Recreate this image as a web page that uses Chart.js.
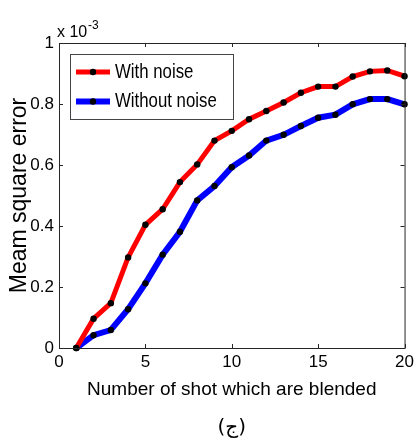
<!DOCTYPE html>
<html>
<head>
<meta charset="utf-8">
<script src="https://cdn.jsdelivr.net/npm/chart.js@4.4.0/dist/chart.umd.min.js"></script>
<style>
  html, body { margin: 0; padding: 0; background: #fff; }
</style>
</head>
<body>
<canvas id="mseChart" width="418" height="441"></canvas>
<script>
// number of blended shots and mean square error (in units of 1e-3)
const shots = [1, 2, 3, 4, 5, 6, 7, 8, 9, 10, 11, 12, 13, 14, 15, 16, 17, 18, 19, 20];
const withNoise = [0, 0.096, 0.147, 0.297, 0.404, 0.455, 0.544, 0.602, 0.680, 0.712,
                   0.750, 0.777, 0.805, 0.837, 0.857, 0.857, 0.890, 0.907, 0.910, 0.891];
const withoutNoise = [0, 0.042, 0.059, 0.127, 0.212, 0.306, 0.381, 0.484, 0.531, 0.593,
                      0.631, 0.680, 0.699, 0.728, 0.755, 0.765, 0.799, 0.816, 0.816, 0.799];
const seriesNames = ['With noise', 'Without noise'];
const xTicks = [0, 5, 10, 15, 20];
const yTicks = [0, 0.2, 0.4, 0.6, 0.8, 1];

const FONT = "'Liberation Sans', Arial, sans-serif";
const AXIS_COLOR = '#262626';

const toPoints = vals => vals.map((v, i) => ({ x: shots[i], y: v }));

// MATLAB-style box with inward ticks, exponent label, legend and caption
const matlabFrame = {
    id: 'matlabFrame',
    afterDatasetsDraw(chart) {
        const { ctx, chartArea: a, scales: { x, y } } = chart;
        ctx.save();
        ctx.strokeStyle = AXIS_COLOR;
        ctx.lineWidth = 1;
        ctx.strokeRect(a.left + 0.5, a.top + 0.5, a.width, a.height);

        ctx.beginPath();
        xTicks.forEach(v => {
            const px = Math.round(x.getPixelForValue(v)) + 0.5;
            ctx.moveTo(px, a.bottom); ctx.lineTo(px, a.bottom - 4);
            ctx.moveTo(px, a.top); ctx.lineTo(px, a.top + 4);
        });
        yTicks.forEach(v => {
            const py = Math.round(y.getPixelForValue(v)) + 0.5;
            ctx.moveTo(a.left, py); ctx.lineTo(a.left + 4, py);
            ctx.moveTo(a.right, py); ctx.lineTo(a.right - 4, py);
        });
        ctx.stroke();

        // exponent above the y axis
        ctx.fillStyle = '#000';
        ctx.textBaseline = 'alphabetic';
        ctx.textAlign = 'left';
        ctx.font = `16px ${FONT}`;
        ctx.fillText('x 10', a.left - 2, a.top - 6);
        ctx.font = `12px ${FONT}`;
        ctx.fillText('-3', a.left + 29, a.top - 14);

        // legend
        const lx = a.left + 11, ly = a.top + 11, lw = 163, lh = 65;
        ctx.fillStyle = '#fff';
        ctx.fillRect(lx, ly, lw, lh);
        ctx.strokeStyle = '#444';
        ctx.strokeRect(lx + 0.5, ly + 0.5, lw, lh);
        chart.data.datasets.forEach((ds, i) => {
            const rowY = ly + 18 + i * 29.5;
            ctx.strokeStyle = ds.borderColor;
            ctx.lineWidth = ds.borderWidth;
            ctx.beginPath();
            ctx.moveTo(lx + 6, rowY);
            ctx.lineTo(lx + 40, rowY);
            ctx.stroke();
            ctx.fillStyle = '#000';
            ctx.beginPath();
            ctx.arc(lx + 23, rowY, 3.2, 0, Math.PI * 2);
            ctx.fill();
            ctx.save();
            ctx.translate(lx + 45, rowY);
            ctx.scale(0.8, 1);
            ctx.font = `21px ${FONT}`;
            ctx.textBaseline = 'middle';
            ctx.fillText(ds.label, 0, 0);
            ctx.restore();
        });

        // caption under the figure
        ctx.fillStyle = '#000';
        ctx.font = "20px 'DejaVu Sans', sans-serif";
        ctx.textAlign = 'center';
        ctx.textBaseline = 'alphabetic';
        ctx.fillText('(ج)', (a.left + a.right) / 2, 433);
        ctx.restore();
    }
};

new Chart(document.getElementById('mseChart').getContext('2d'), {
    type: 'line',
    data: {
        datasets: [{
            label: seriesNames[0],
            data: toPoints(withNoise),
            borderColor: '#ff0000',
            borderWidth: 5,
            pointRadius: 3.2,
            pointBackgroundColor: '#000',
            pointBorderColor: '#000',
            pointBorderWidth: 0,
            tension: 0,
            clip: false
        }, {
            label: seriesNames[1],
            data: toPoints(withoutNoise),
            borderColor: '#0000ff',
            borderWidth: 6,
            pointRadius: 3.2,
            pointBackgroundColor: '#000',
            pointBorderColor: '#000',
            pointBorderWidth: 0,
            tension: 0,
            clip: false
        }]
    },
    options: {
        responsive: false,
        animation: false,
        devicePixelRatio: 1,
        layout: { padding: { top: 43, right: 11, bottom: 40, left: 0 } },
        plugins: {
            legend: { display: false },
            tooltip: { enabled: false }
        },
        scales: {
            x: {
                type: 'linear',
                min: 0,
                max: 20,
                grid: { display: false, drawTicks: false },
                border: { display: false },
                afterBuildTicks: s => { s.ticks = xTicks.map(v => ({ value: v })); },
                ticks: {
                    color: '#000',
                    font: { family: FONT, size: 17 },
                    padding: 4,
                    maxRotation: 0,
                    callback: v => String(v)
                },
                title: {
                    display: true,
                    text: 'Number of shot which are blended',
                    color: '#000',
                    font: { family: FONT, size: 19 },
                    padding: 0
                },
                afterFit: s => { s.height = 53; }
            },
            y: {
                min: 0,
                max: 1,
                grid: { display: false, drawTicks: false },
                border: { display: false },
                afterBuildTicks: s => { s.ticks = yTicks.map(v => ({ value: v })); },
                ticks: {
                    color: '#000',
                    font: { family: FONT, size: 17 },
                    padding: 5,
                    callback: v => String(v)
                },
                title: {
                    display: true,
                    text: 'Meam square error',
                    color: '#000',
                    font: { family: FONT, size: 23 },
                    padding: { top: 6, bottom: 0 }
                },
                afterFit: s => { s.width = 59; }
            }
        }
    },
    plugins: [matlabFrame]
});
</script>
</body>
</html>
